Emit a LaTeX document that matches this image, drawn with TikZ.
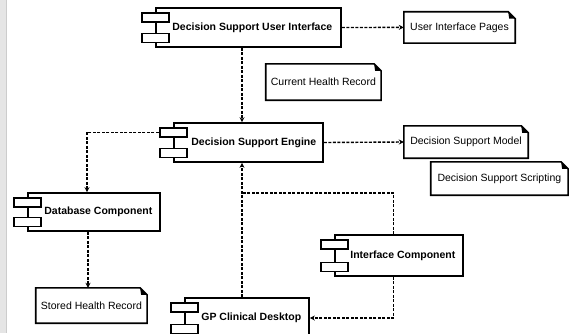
\documentclass[tikz,border=0pt]{standalone}
\usepackage{fontspec}
\setmainfont{Liberation Sans}
\usetikzlibrary{positioning,arrows.meta}

\tikzset{
  comp/.style={draw, line width=1.6pt, fill=white, inner sep=0pt},
  comptab/.style={draw, line width=1.6pt, fill=white, minimum width=27pt, minimum height=9pt, inner sep=0pt},
  complabel/.style={font=\bfseries\fontsize{10.5}{12}\selectfont, inner sep=0pt},
  notebox/.style={font=\fontsize{10.5}{12}\selectfont, inner sep=1pt},
  dep/.style={line width=1.4pt, dash pattern=on 3pt off 1.5pt, -{Stealth[length=5pt,width=5pt]}},
  link/.style={line width=1.4pt, dash pattern=on 3pt off 1.5pt},
}

\begin{document}
\begin{tikzpicture}[x=1pt,y=-1pt]
  \useasboundingbox (0,0) rectangle (574,333);
  \clip (0,0) rectangle (574,333);

  % window edge
  \fill[gray!20] (0,0) rectangle (6.5,333);
  \draw[gray!40] (6.5,0) -- (6.5,333);

  % components
  \node[comp, minimum width=185pt, minimum height=39pt] (dsui) at (248.5,27.5) {};
  \node[comp, minimum width=149pt, minimum height=39pt] (dse) at (248.5,142.5) {};
  \node[comp, minimum width=132pt, minimum height=38pt] (db) at (94,212) {};
  \node[comp, minimum width=128pt, minimum height=41pt] (ic) at (399,255.5) {};
  \node[comp, minimum width=124pt, minimum height=40pt] (gp) at (247,318) {};

  \foreach \c in {dsui,dse,db,ic,gp} {
    \path (\c.north west) ++(0,10) node[comptab] (\c-t1) {};
    \path (\c.south west) ++(0,-10) node[comptab] (\c-t2) {};
  }

  \node[complabel, right=17pt of dsui.west] (dsui-txt) {Decision Support User Interface};
  \node[complabel, right=18pt of dse.west] (dse-txt) {Decision Support Engine};
  \node[complabel, right=17pt of db.west] (db-txt) {Database Component};
  \node[complabel, right=16pt of ic.west] (ic-txt) {Interface Component};
  \node[complabel, right=17pt of gp.west] (gp-txt) {GP Clinical Desktop};

  % notes
  \node[notebox, minimum width=111pt, minimum height=31pt] (uip) at (459.5,27.4) {User Interface Pages};
  \node[notebox, minimum width=115pt, minimum height=36pt] (chr) at (323.4,82) {Current Health Record};
  \node[notebox, minimum width=111pt, minimum height=35pt] (shr) at (91.4,305.5) {Stored Health Record};
  \node[notebox, minimum width=124pt, minimum height=32pt] (dsm) at (466,142) {Decision Support Model};
  \node[notebox, minimum width=137pt, minimum height=33pt] (dss) at (499.4,178.5) {Decision Support Scripting};

  \foreach \n in {uip,chr,shr,dsm,dss} {
    \draw[line width=1.6pt] (\n.north west) -- ([xshift=-7pt]\n.north east)
      -- ([yshift=-7pt]\n.north east) -- (\n.south east) -- (\n.south west) -- cycle;
    \fill ([xshift=-7pt]\n.north east) -- ([xshift=-6pt,yshift=-7pt]\n.north east)
      -- ([yshift=-7pt]\n.north east) -- cycle;
  }

  % dependencies
  \coordinate (join) at (242,193);
  \draw[dep] (dsui.east) -- (uip.west);
  \draw[dep] ([xshift=-6.5pt]dsui.south) -- ([xshift=-6.5pt]dse.north);
  \draw[dep] (dse.east) -- (dsm.west);
  \draw[dep] (dse-t1.west) -| ([xshift=-7pt]db.north);
  \draw[dep] ([xshift=-6pt]db.south) -- ([xshift=-6pt]db.south |- shr.north);
  \draw[dep] ([xshift=-5pt]gp.north) -- (join) -- ([xshift=-6.5pt]dse.south);
  \draw[link] ([xshift=-5.5pt]ic.north) |- (join);
  \draw[dep] ([xshift=-5.5pt]ic.south) |- (gp.east);
\end{tikzpicture}
\end{document}
